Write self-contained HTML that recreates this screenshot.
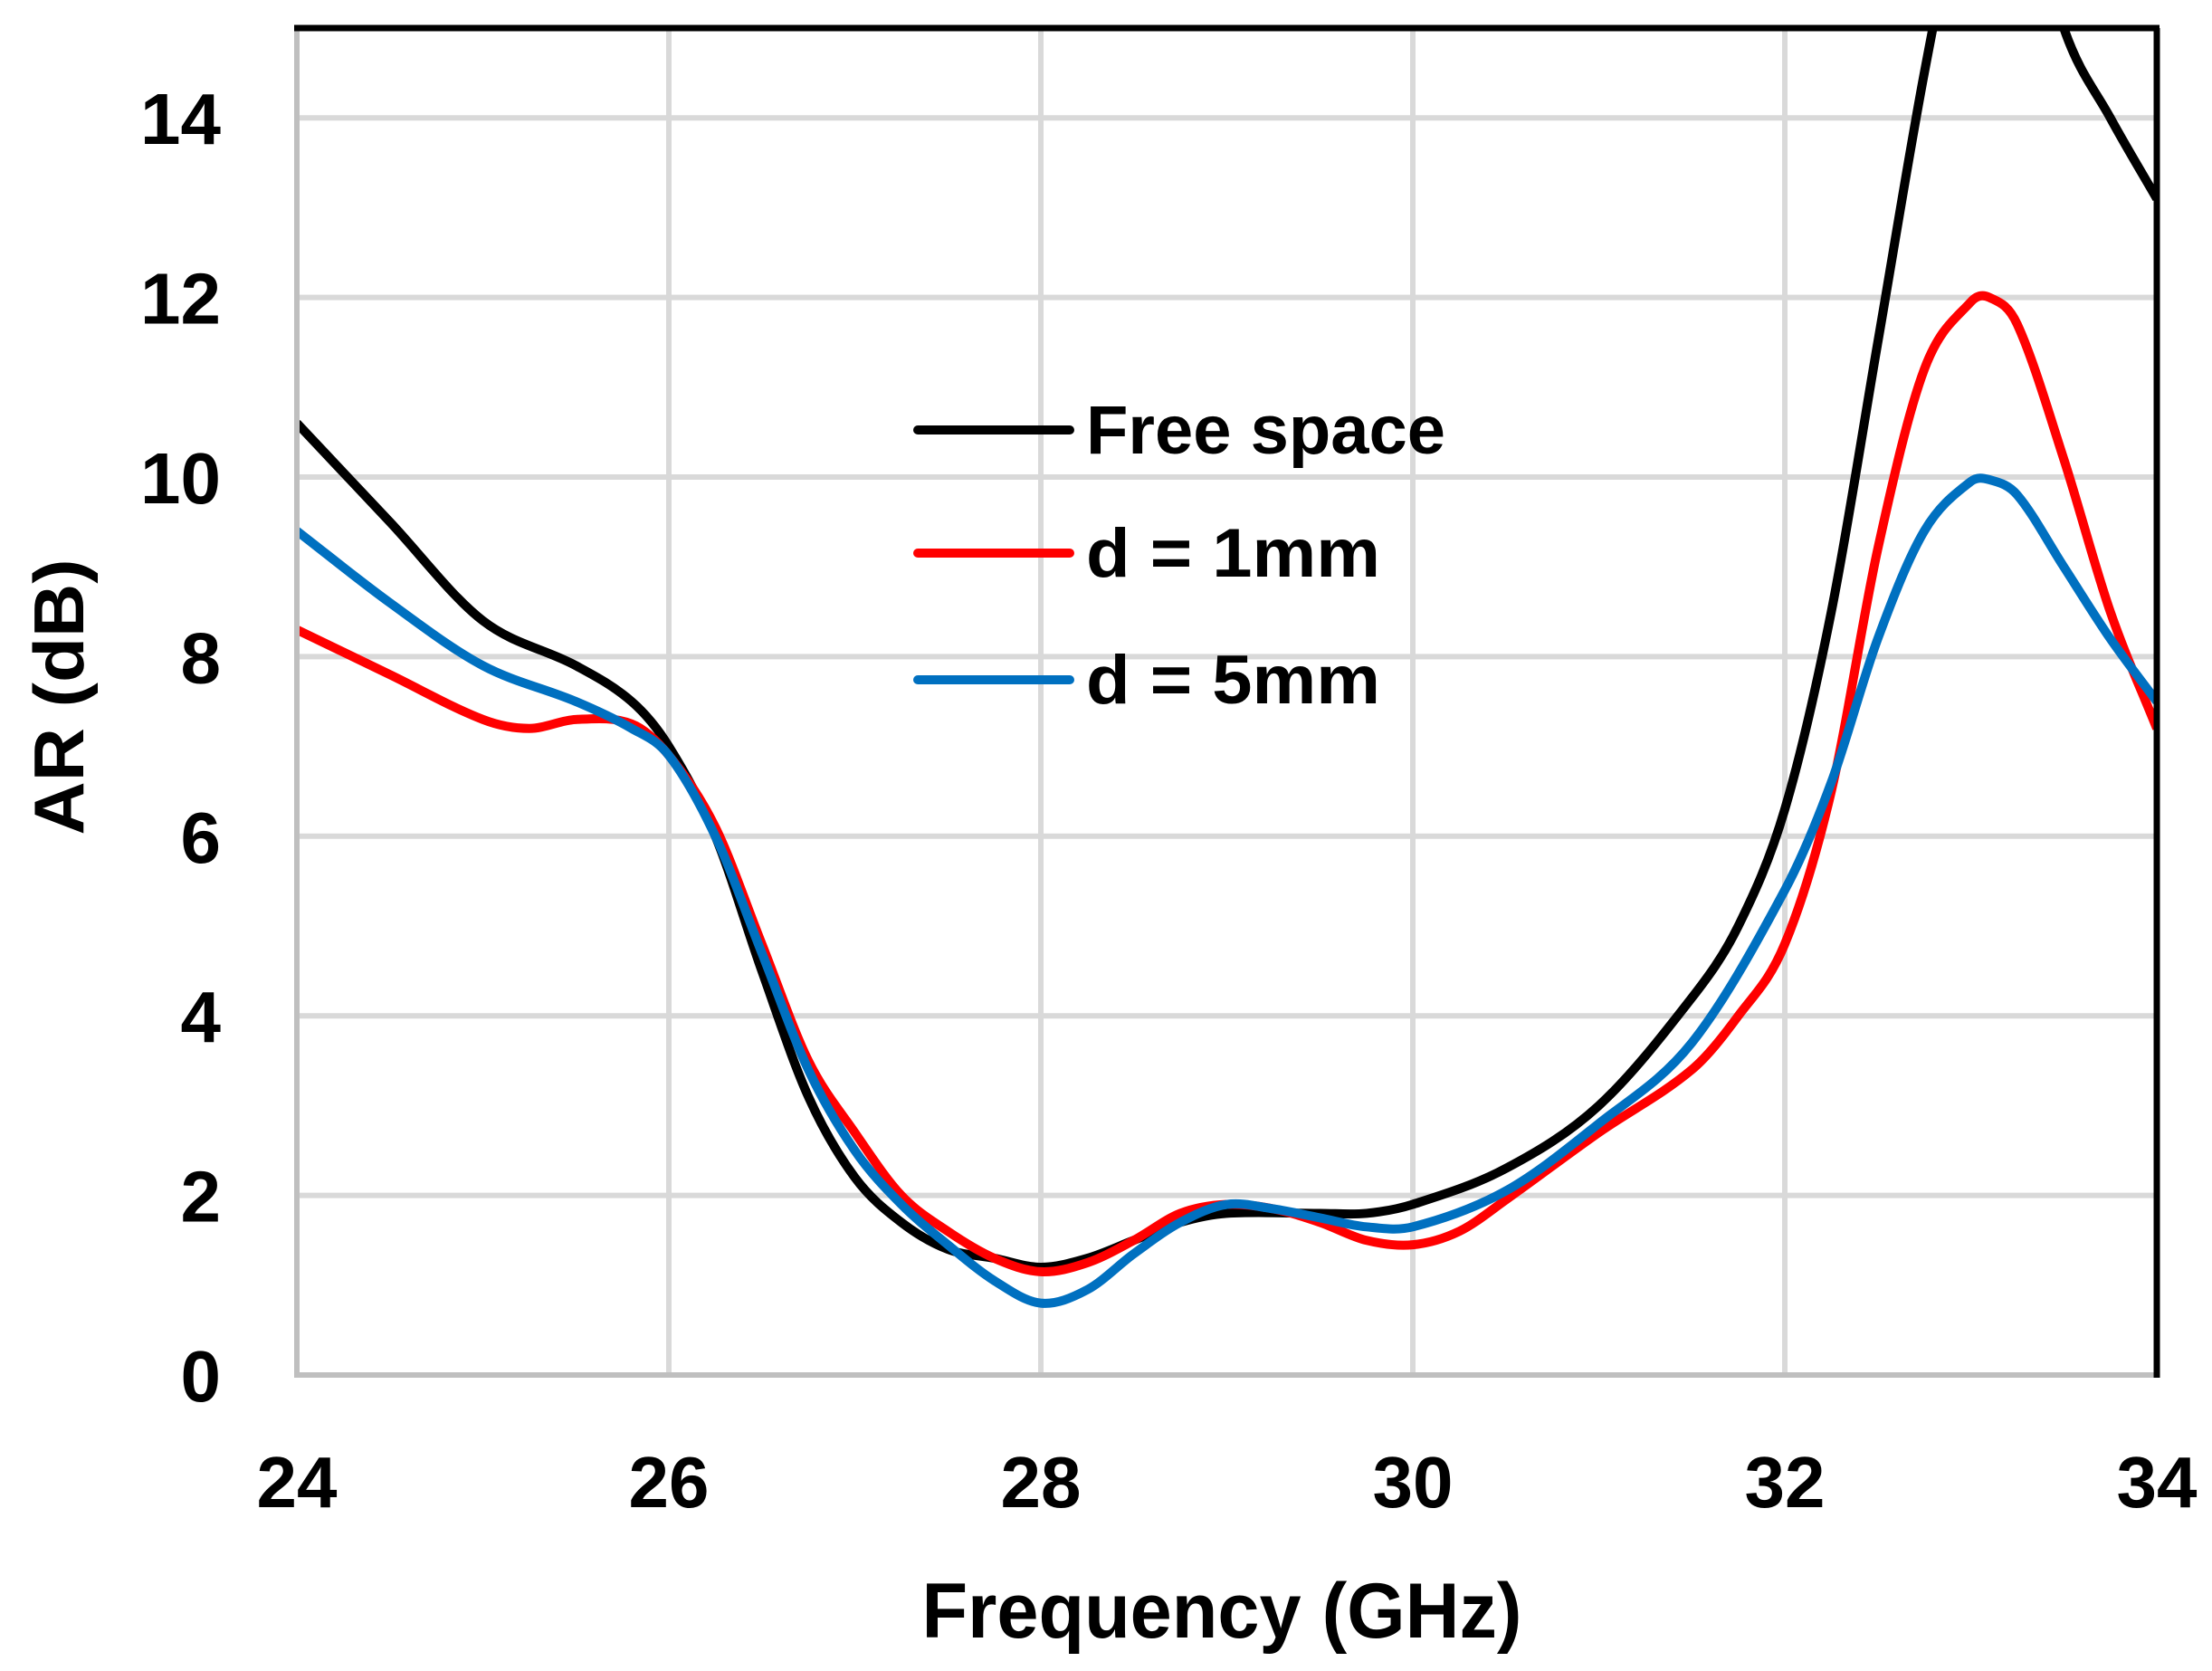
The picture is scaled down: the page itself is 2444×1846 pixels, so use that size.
<!DOCTYPE html>
<html><head><meta charset="utf-8"><style>
html,body{margin:0;padding:0;background:#fff}
svg{display:block}
text{font-family:"Liberation Sans",sans-serif;font-weight:bold;fill:#000}
</style></head><body>
<svg id="chart" width="2444" height="1846" viewBox="0 0 2444 1846" xmlns="http://www.w3.org/2000/svg">
<defs><clipPath id="pc"><rect x="328" y="31" width="2055" height="1488"/></clipPath></defs>
<g id="grid"></g>
<g id="series" clip-path="url(#pc)"></g>
<g id="axes"></g>
<g id="ticks"></g>
<text x="0" y="0" transform="translate(92,770) rotate(-90)" text-anchor="middle" font-size="78" textLength="305" lengthAdjust="spacingAndGlyphs">AR (dB)</text>
<text x="1350" y="1809" text-anchor="middle" font-size="86" textLength="663" lengthAdjust="spacingAndGlyphs">Frequency (GHz)</text>
<g id="legend"></g>
</svg>
<script>
const xTicks=[24,26,28,30,32,34];
const yTicks=[0,2,4,6,8,10,12,14];
const freeX=[24,24.5,25,25.5,25.8,26,26.25,26.5,26.75,27,27.25,27.5,27.75,28,28.25,28.5,28.75,29,29.5,29.75,30,30.5,31,31.5,31.75,32,32.25,32.5,32.75,33,33.1,33.25,33.5,33.75,34];
const freeY=[10.6,9.5,8.4,7.9,7.5,7.0,6.0,4.5,3.1,2.2,1.7,1.4,1.3,1.2,1.3,1.5,1.7,1.8,1.8,1.8,1.9,2.3,3.0,4.2,5.0,6.3,8.5,11.5,14.5,17.0,17.5,17.0,15.0,14.0,13.1];
const d1X=[24,24.5,25,25.25,25.5,25.8,26,26.25,26.5,26.75,27,27.25,27.5,27.75,28,28.25,28.5,28.75,29,29.25,29.5,29.75,30,30.25,30.5,31,31.5,31.75,32,32.25,32.5,32.75,33,33.1,33.25,33.5,33.75,34];
const d1Y=[8.3,7.8,7.3,7.2,7.3,7.25,6.9,6.1,4.8,3.5,2.7,2.0,1.6,1.3,1.15,1.25,1.5,1.8,1.9,1.85,1.7,1.5,1.45,1.6,1.95,2.7,3.4,4.0,4.8,6.5,9.2,11.2,11.95,12.0,11.7,10.2,8.5,7.2];
const d5X=[24,24.5,25,25.5,25.8,26,26.25,26.5,26.75,27,27.25,27.5,27.75,28,28.25,28.5,28.75,29,29.25,29.5,29.75,30,30.5,31,31.5,32,32.25,32.5,32.75,33,33.1,33.25,33.5,33.75,34];
const d5Y=[9.4,8.6,7.9,7.5,7.2,6.9,6.0,4.7,3.4,2.5,1.9,1.45,1.05,0.8,0.95,1.35,1.7,1.9,1.85,1.75,1.65,1.65,2.05,2.8,3.7,5.4,6.6,8.2,9.4,9.95,9.97,9.8,9.0,8.2,7.5];
const legendLabels=["Free space","d = 1mm","d = 5mm"];

const L=328,R=2383,T=31,B=1519;
const sx=v=>L+(v-24)/(34-24)*(R-L);
const sy=v=>B-(v/15)*(B-T);
const NS="http://www.w3.org/2000/svg";
function mk(tag,attrs,parent){const e=document.createElementNS(NS,tag);for(const k in attrs)e.setAttribute(k,attrs[k]);parent.appendChild(e);return e;}
const grid=document.getElementById('grid'),axes=document.getElementById('axes'),ticks=document.getElementById('ticks'),series=document.getElementById('series'),legend=document.getElementById('legend');
xTicks.forEach(t=>{
  if(t>24&&t<34){const g=mk('line',{x1:sx(t),x2:sx(t),y1:T,y2:B,stroke:'#d9d9d9','stroke-width':6},grid);
  
  }
  const tx=mk('text',{x:sx(t),y:1665,'text-anchor':'middle','font-size':80},ticks);tx.textContent=t;
  
  
});
yTicks.forEach(t=>{
  if(t>0){const g=mk('line',{x1:L,x2:R,y1:sy(t),y2:sy(t),stroke:'#d9d9d9','stroke-width':6},grid);
  
  }
  const tx=mk('text',{x:244,y:sy(t)+29,'text-anchor':'end','font-size':80},ticks);tx.textContent=t;
  
  
});
let a=mk('line',{x1:L,x2:L,y1:T,y2:B+3,stroke:'#bfbfbf','stroke-width':6},axes);


a=mk('line',{x1:L,x2:R,y1:B,y2:B,stroke:'#bfbfbf','stroke-width':6},axes);


a=mk('line',{x1:L-3,x2:R+3,y1:T,y2:T,stroke:'#000','stroke-width':7},axes);


a=mk('line',{x1:R,x2:R,y1:T,y2:B+3,stroke:'#000','stroke-width':7},axes);


function smooth(xs,ys){
  const n=xs.length,m=[];
  for(let i=0;i<n;i++){
    const a=Math.max(0,i-1),b=Math.min(n-1,i+1);
    m.push((ys[b]-ys[a])/(xs[b]-xs[a]));
  }
  let d='M'+sx(xs[0])+','+sy(ys[0]);
  for(let i=0;i<n-1;i++){
    const h=xs[i+1]-xs[i];
    const c1x=xs[i]+h/3,c1y=ys[i]+m[i]*h/3;
    const c2x=xs[i+1]-h/3,c2y=ys[i+1]-m[i+1]*h/3;
    d+=' C'+sx(c1x)+','+sy(c1y)+' '+sx(c2x)+','+sy(c2y)+' '+sx(xs[i+1])+','+sy(ys[i+1]);
  }
  return d;
}
const defs=[[freeX,freeY,'#000000','free-space-line'],[d1X,d1Y,'#ff0000','d-1mm-line'],[d5X,d5Y,'#0070c0','d-5mm-line']];
defs.forEach(([xs,ys,c,n])=>{
  const pth=mk('path',{d:smooth(xs,ys),fill:'none',stroke:c,'stroke-width':10,'stroke-linejoin':'round'},series);
  
  
});
const ly=[475,611,751];
defs.forEach(([xs,ys,c,n],i)=>{
  const ln=mk('line',{x1:1014,x2:1182,y1:ly[i],y2:ly[i],stroke:c,'stroke-width':10,'stroke-linecap':'round'},legend);
  
  
  const tx=mk('text',{x:1200,y:ly[i]+26,'font-size':76},legend);tx.textContent=legendLabels[i];
  
  
  tx.setAttribute('textLength',i==0?397:325);
  tx.setAttribute('lengthAdjust','spacingAndGlyphs');
});
</script>
</body></html>
